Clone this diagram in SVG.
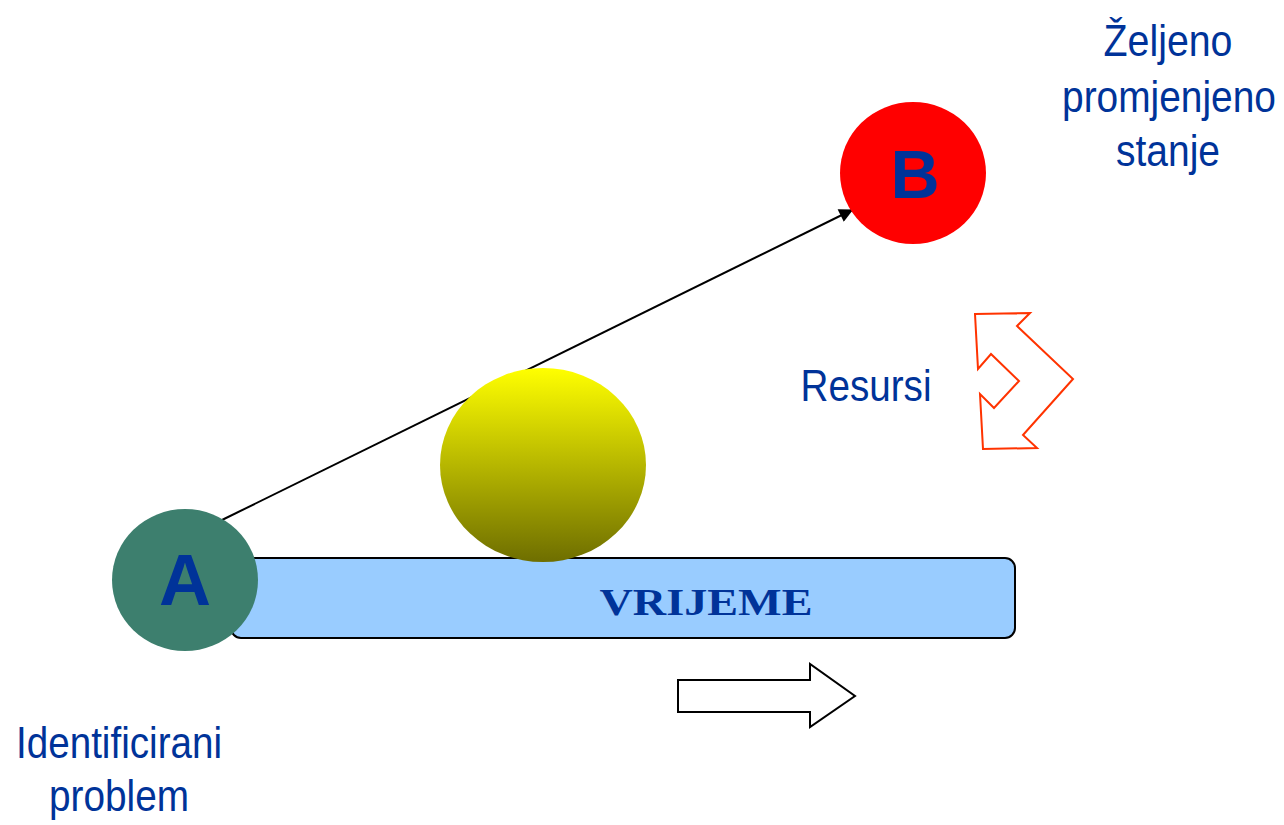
<svg xmlns="http://www.w3.org/2000/svg" width="1284" height="825" viewBox="0 0 1284 825">
<style>
.lbl{font-family:"Liberation Sans",Arial,sans-serif;font-size:44px;fill:#003399;text-anchor:middle}
.big{font-family:"Liberation Sans",Arial,sans-serif;font-weight:bold;fill:#003399;text-anchor:middle}
</style>
<defs>
<linearGradient id="yg" x1="0" y1="0" x2="0" y2="1">
<stop offset="0" stop-color="#FFFF00"/>
<stop offset="1" stop-color="#6E6E00"/>
</linearGradient>
<marker id="ah2" viewBox="0 0 10 10" refX="9" refY="5" markerWidth="18" markerHeight="14" markerUnits="userSpaceOnUse" orient="auto">
<path d="M0,0 L10,5 L0,10 z" fill="#000"/>
</marker>
</defs>
<rect width="1284" height="825" fill="#fff"/>
<g id="time-bar">
<rect x="231" y="558" width="784" height="80" rx="10" fill="#99CCFF" stroke="#000" stroke-width="2"/>
<text x="706" y="615" font-family="'Liberation Serif','Times New Roman',serif" font-weight="bold" font-size="37" fill="#003399" text-anchor="middle" textLength="213" lengthAdjust="spacingAndGlyphs">VRIJEME</text>
</g>
<g id="connectors">
<line x1="222" y1="520" x2="852" y2="210" stroke="#000" stroke-width="2" marker-end="url(#ah2)"/>
</g>
<g id="yellow-ball">
<ellipse cx="543" cy="465" rx="103" ry="97" fill="url(#yg)"/>
</g>
<g id="node-A">
<ellipse cx="185" cy="580" rx="73" ry="71" fill="#3D7F6E"/>
<text class="big" x="185" y="605" font-size="72">A</text>
</g>
<g id="node-B">
<ellipse cx="913" cy="173" rx="73" ry="71" fill="#FF0000"/>
<text class="big" x="915" y="198" font-size="68">B</text>
</g>
<g id="label-B">
<text class="lbl" x="1168" y="56" textLength="129" lengthAdjust="spacingAndGlyphs">Željeno</text>
<text class="lbl" x="1169" y="112" textLength="214" lengthAdjust="spacingAndGlyphs">promjenjeno</text>
<text class="lbl" x="1168" y="166" textLength="104" lengthAdjust="spacingAndGlyphs">stanje</text>
</g>
<g id="resursi">
<text class="lbl" x="866" y="401" textLength="131" lengthAdjust="spacingAndGlyphs">Resursi</text>
<polygon points="975,314 1030,313 1017,326 1073,379 1023,435 1037,448 983,449 980,394 994,408 1019,381 991,354 978,369" fill="none" stroke="#FF3300" stroke-width="2"/>
</g>
<g id="time-arrow">
<polygon points="678,680 810,680 810,664 855,696 810,727 810,712 678,712" fill="#fff" stroke="#000" stroke-width="2"/>
</g>
<g id="label-A">
<text class="lbl" x="119" y="758" textLength="206" lengthAdjust="spacingAndGlyphs">Identificirani</text>
<text class="lbl" x="119" y="811" textLength="140" lengthAdjust="spacingAndGlyphs">problem</text>
</g>
</svg>
